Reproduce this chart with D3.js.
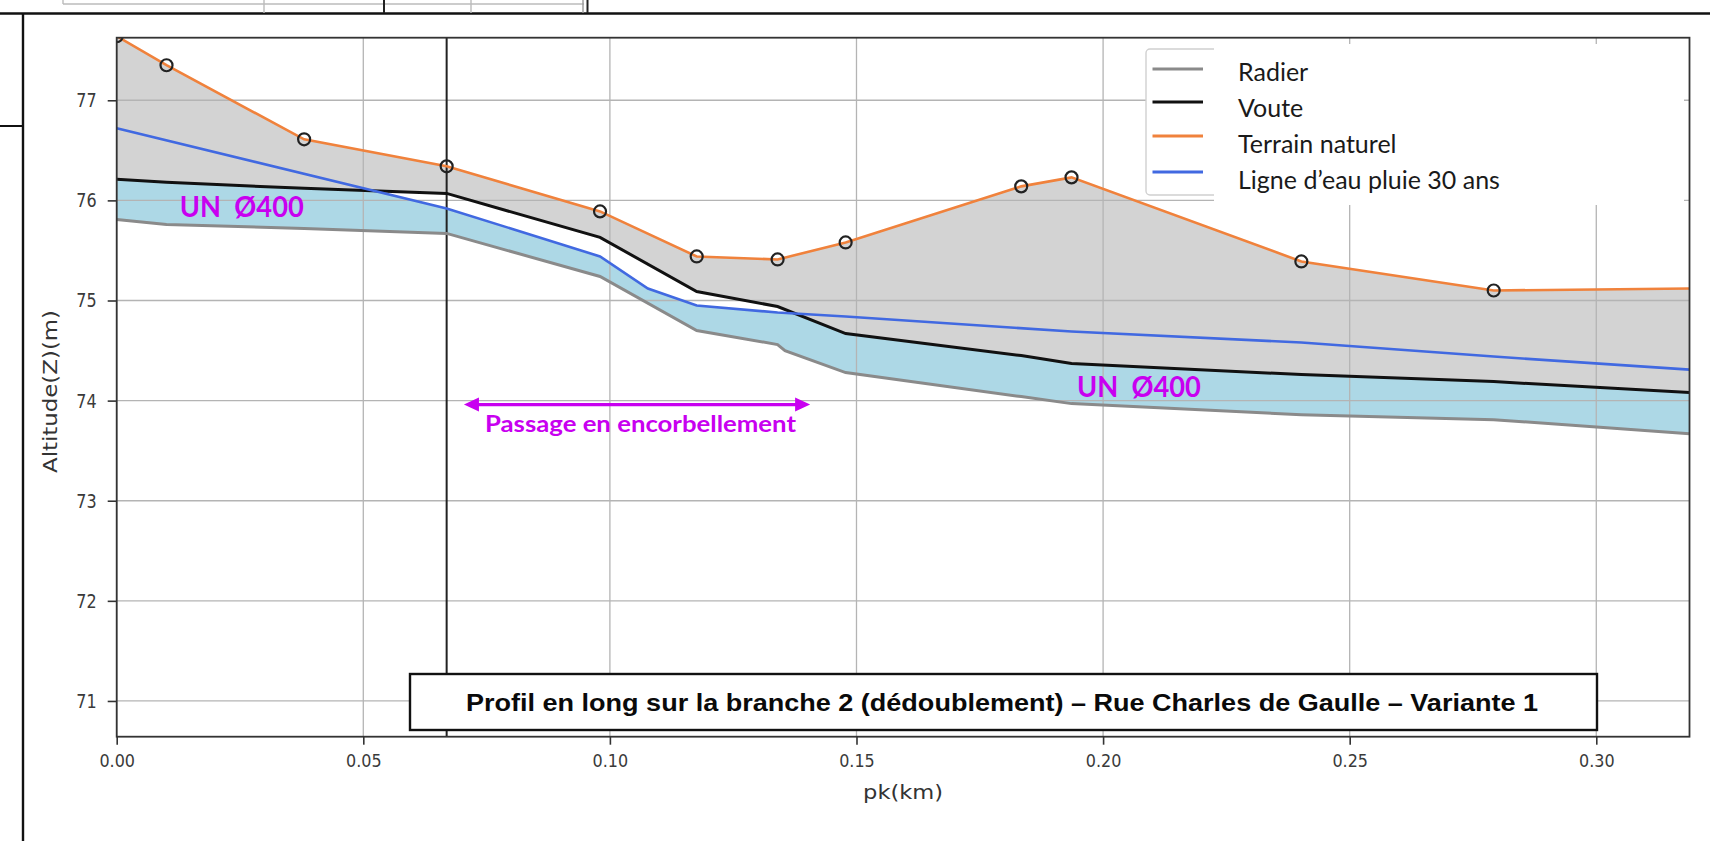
<!DOCTYPE html>
<html>
<head>
<meta charset="utf-8">
<script src="https://cdn.jsdelivr.net/npm/d3@7"></script>
<style>
  html, body { margin: 0; padding: 0; background: #ffffff; }
  svg { display: block; }
</style>
</head>
<body>
<svg id="chart" width="1710" height="841"></svg>
<script>
// ---- Long profile, branch 2 (pk in km, altitudes in m) ----
const pk      = [0, 0.0101, 0.038, 0.0669, 0.098, 0.1176, 0.134, 0.1478, 0.1834, 0.1936, 0.2402, 0.2792, 0.3189];
const terrain = [77.64, 77.35, 76.61, 76.34, 75.89, 75.44, 75.41, 75.58, 76.14, 76.23, 75.39, 75.10, 75.12];
const voute   = [76.21, 76.18, 76.12, 76.07, 75.63, 75.09, 74.94, 74.67, 74.45, 74.37, 74.26, 74.19, 74.08];
// invert level, with the small drop just after pk 0.134
const pkRadier = [0, 0.0101, 0.038, 0.0669, 0.098, 0.1176, 0.134, 0.1355, 0.1478, 0.1834, 0.1936, 0.2402, 0.2792, 0.3189];
const radier   = [75.81, 75.76, 75.72, 75.67, 75.24, 74.70, 74.56, 74.50, 74.28, 74.04, 73.97, 73.86, 73.81, 73.67];
// surveyed ground points (circles): every node but the last one
const terrainSurveyed = 12;

// 30-year rainfall water line
const pkEau = [0, 0.0669, 0.098, 0.1077, 0.1176, 0.134, 0.1478, 0.1936, 0.2402, 0.2792, 0.3189];
const eau   = [76.72, 75.92, 75.44, 75.12, 74.95, 74.88, 74.84, 74.69, 74.58, 74.44, 74.31];

const xTicks = [0, 0.05, 0.10, 0.15, 0.20, 0.25, 0.30];
const yTicks = [71, 72, 73, 74, 75, 76, 77];
const xDomain = [0, 0.3189];
const yDomain = [70.643, 77.625];

const legendNames  = ["Radier", "Voute", "Terrain naturel", "Ligne d\u2019eau pluie 30 ans"];
const legendColors = ["#8a8a8a", "#111111", "#f0823c", "#4169e1"];

// annotations (data coordinates)
const pkLimite = 0.0669;
const pkEncorbellement = [0.0704, 0.1406];
const zEncorbellement = 73.96;
const labelEncorbellement = "Passage en encorbellement";
const pkDiametre = [0.0128, 0.1947];
const zDiametre = [75.83, 74.04];
const labelDiametre = "UN  \u00D8400";
const titre = "Profil en long sur la branche 2 (d\u00E9doublement) \u2013 Rue Charles de Gaulle \u2013 Variante 1";

// ---- layout ----
const plot = { left: 116.7, right: 1689.5, top: 37.7, bottom: 736.7 };
const svg = d3.select("#chart");
const x = d3.scaleLinear().domain(xDomain).range([plot.left, plot.right]);
const y = d3.scaleLinear().domain(yDomain).range([plot.bottom, plot.top]);
const magenta = "#c800f0";

// ---- page frame around the figure ----
const frame = svg.append("g").attr("fill", "none");
frame.append("line").attr("x1", 0).attr("x2", 1710).attr("y1", 13.5).attr("y2", 13.5)
  .attr("stroke", "#111").attr("stroke-width", 2.4);
frame.append("line").attr("x1", 23).attr("x2", 23).attr("y1", 13).attr("y2", 841)
  .attr("stroke", "#111").attr("stroke-width", 2.4);
frame.append("line").attr("x1", 0).attr("x2", 23).attr("y1", 126).attr("y2", 126)
  .attr("stroke", "#111").attr("stroke-width", 2);
frame.append("line").attr("x1", 63).attr("x2", 584).attr("y1", 4).attr("y2", 4)
  .attr("stroke", "#bbb").attr("stroke-width", 1.4);
[[63, "#bbb", 4], [264, "#bbb", 13], [384, "#222", 13], [471, "#bbb", 13], [583, "#999", 13], [587.5, "#222", 13]]
  .forEach(([vx, c, h]) => frame.append("line").attr("x1", vx).attr("x2", vx).attr("y1", 0).attr("y2", h)
    .attr("stroke", c).attr("stroke-width", c === "#222" ? 2 : 1.4));

// ---- clip to the axes area ----
svg.append("defs").append("clipPath").attr("id", "plotClip")
  .append("rect").attr("x", plot.left).attr("y", plot.top)
  .attr("width", plot.right - plot.left).attr("height", plot.bottom - plot.top);
const inner = svg.append("g").attr("clip-path", "url(#plotClip)");

// ---- interpolation helpers for the water-filled part of the pipe ----
function interp(xs, ys, v) {
  if (v <= xs[0]) return ys[0];
  for (let i = 1; i < xs.length; i++) {
    if (v <= xs[i]) {
      const t = (v - xs[i - 1]) / (xs[i] - xs[i - 1]);
      return ys[i - 1] + t * (ys[i] - ys[i - 1]);
    }
  }
  return ys[ys.length - 1];
}
const grid = Array.from(new Set(pk.concat(pkEau, pkRadier))).sort((a, b) => a - b);
const withCrossings = [];
grid.forEach((g, i) => {
  if (i > 0) {
    const a = grid[i - 1];
    const da = interp(pkEau, eau, a) - interp(pk, voute, a);
    const db = interp(pkEau, eau, g) - interp(pk, voute, g);
    if (da * db < 0) withCrossings.push(a + (g - a) * da / (da - db));
  }
  withCrossings.push(g);
});
const wetSection = withCrossings.map(v => ({
  pk: v,
  low: interp(pkRadier, radier, v),
  high: Math.min(interp(pk, voute, v), interp(pkEau, eau, v))
}));

// ground above the crown: light grey
const profile = pk.map((p, i) => ({ pk: p, terrain: terrain[i], voute: voute[i] }));
inner.append("path").datum(profile)
  .attr("fill", "#d3d3d3")
  .attr("d", d3.area().x(d => x(d.pk)).y0(d => y(d.voute)).y1(d => y(d.terrain)));
// water inside the pipe: light blue
inner.append("path").datum(wetSection)
  .attr("fill", "#add8e6")
  .attr("d", d3.area().x(d => x(d.pk)).y0(d => y(d.low)).y1(d => y(d.high)));

// ---- grid ----
const gridG = inner.append("g").attr("stroke", "#b4b4b4").attr("stroke-width", 1.3);
xTicks.forEach(t => gridG.append("line").attr("x1", x(t)).attr("x2", x(t)).attr("y1", plot.top).attr("y2", plot.bottom));
yTicks.forEach(t => gridG.append("line").attr("x1", plot.left).attr("x2", plot.right).attr("y1", y(t)).attr("y2", y(t)));

// limit of the cantilevered section
inner.append("line").attr("x1", x(pkLimite)).attr("x2", x(pkLimite))
  .attr("y1", plot.top).attr("y2", plot.bottom)
  .attr("stroke", "#222").attr("stroke-width", 2);

// ---- profile lines ----
const lineP = key => d3.line().x(d => x(d.pk)).y(d => y(d[key]));
const invert = pkRadier.map((p, i) => ({ pk: p, z: radier[i] }));
inner.append("path").datum(invert).attr("fill", "none").attr("stroke", legendColors[0])
  .attr("stroke-width", 3).attr("d", lineP("z"));
inner.append("path").datum(profile).attr("fill", "none").attr("stroke", legendColors[1])
  .attr("stroke-width", 3).attr("d", lineP("voute"));
inner.append("path").datum(profile).attr("fill", "none").attr("stroke", legendColors[2])
  .attr("stroke-width", 2.6).attr("d", lineP("terrain"));
const waterLine = pkEau.map((p, i) => ({ pk: p, z: eau[i] }));
inner.append("path").datum(waterLine).attr("fill", "none").attr("stroke", legendColors[3])
  .attr("stroke-width", 2.6).attr("d", lineP("z"));

// surveyed ground points
inner.append("g").selectAll("circle").data(profile.slice(0, terrainSurveyed)).join("circle")
  .attr("cx", d => x(d.pk)).attr("cy", d => y(d.terrain)).attr("r", 6)
  .attr("fill", "none").attr("stroke", "#222").attr("stroke-width", 2.2);

// ---- spines and axes ----
svg.append("rect").attr("x", plot.left).attr("y", plot.top)
  .attr("width", plot.right - plot.left).attr("height", plot.bottom - plot.top)
  .attr("fill", "none").attr("stroke", "#333").attr("stroke-width", 1.8);

const xAxis = svg.append("g").attr("transform", `translate(0,${plot.bottom})`)
  .call(d3.axisBottom(x).tickValues(xTicks).tickFormat(d3.format(".2f")).tickSize(8).tickPadding(8));
const yAxis = svg.append("g").attr("transform", `translate(${plot.left},0)`)
  .call(d3.axisLeft(y).tickValues(yTicks).tickFormat(d3.format("d")).tickSize(9).tickPadding(11));
[xAxis, yAxis].forEach(g => {
  g.select(".domain").remove();
  g.selectAll(".tick line").attr("stroke", "#333").attr("stroke-width", 1.6);
  g.selectAll(".tick text").attr("font-family", "DejaVu Sans").attr("font-size", 16).attr("fill", "#3a3a3a");
});
xAxis.selectAll(".tick text").attr("transform", "scale(1,1.12)");
yAxis.selectAll(".tick text").attr("transform", "scale(1,1.25)");

svg.append("text").attr("x", (plot.left + plot.right) / 2).attr("y", 799)
  .attr("text-anchor", "middle").attr("font-family", "DejaVu Sans").attr("font-size", 20)
  .attr("fill", "#333").attr("textLength", 80).attr("lengthAdjust", "spacingAndGlyphs")
  .text("pk(km)");
svg.append("text").attr("transform", "translate(57,391.5) rotate(-90)")
  .attr("text-anchor", "middle").attr("font-family", "DejaVu Sans").attr("font-size", 19)
  .attr("fill", "#333").attr("textLength", 163).attr("lengthAdjust", "spacingAndGlyphs")
  .text("Altitude(Z)(m)");

// ---- annotations ----
pkDiametre.forEach((p, i) => {
  svg.append("text").attr("x", x(p)).attr("y", y(zDiametre[i]))
    .attr("font-family", "Lato").attr("font-weight", 700).attr("font-size", 28)
    .attr("fill", magenta).attr("textLength", 124).attr("lengthAdjust", "spacingAndGlyphs")
    .attr("xml:space", "preserve").style("white-space", "pre")
    .text(labelDiametre);
});

const ax0 = x(pkEncorbellement[0]), ax1 = x(pkEncorbellement[1]), ay = y(zEncorbellement);
const arrow = svg.append("g").attr("fill", magenta).attr("stroke", "none");
arrow.append("line").attr("x1", ax0 + 10).attr("x2", ax1 - 10).attr("y1", ay).attr("y2", ay)
  .attr("stroke", magenta).attr("stroke-width", 3.4);
arrow.append("path").attr("d", `M${ax0},${ay} L${ax0 + 15},${ay - 7} L${ax0 + 15},${ay + 7} Z`);
arrow.append("path").attr("d", `M${ax1},${ay} L${ax1 - 15},${ay - 7} L${ax1 - 15},${ay + 7} Z`);
svg.append("text").attr("x", (ax0 + ax1) / 2 + 3.5).attr("y", 431.5)
  .attr("text-anchor", "middle").attr("font-family", "Lato").attr("font-weight", 700)
  .attr("font-size", 22).attr("fill", magenta)
  .attr("textLength", 311).attr("lengthAdjust", "spacingAndGlyphs")
  .text(labelEncorbellement);

// ---- title box ----
svg.append("rect").attr("x", 410).attr("y", 674).attr("width", 1187).attr("height", 56)
  .attr("fill", "#ffffff").attr("stroke", "#111").attr("stroke-width", 2.4);
svg.append("text").attr("x", 1002).attr("y", 710.5).attr("text-anchor", "middle")
  .attr("font-family", "Liberation Sans, Arial, sans-serif").attr("font-weight", 700)
  .attr("font-size", 24).attr("fill", "#0a0a0a")
  .attr("textLength", 1072).attr("lengthAdjust", "spacingAndGlyphs")
  .text(titre);

// ---- legend ----
const legend = svg.append("g");
legend.append("rect").attr("x", 1146).attr("y", 49).attr("width", 520).attr("height", 146)
  .attr("rx", 4).attr("fill", "#ffffff").attr("stroke", "#d0d0d0").attr("stroke-width", 1.4);
legend.append("rect").attr("x", 1214).attr("y", 44).attr("width", 470).attr("height", 161)
  .attr("fill", "#ffffff");
const legendLineY = [69, 102, 136, 172];
const legendTextY = [81, 117, 153, 189];
legendNames.forEach((name, i) => {
  legend.append("line").attr("x1", 1152.5).attr("x2", 1203)
    .attr("y1", legendLineY[i]).attr("y2", legendLineY[i])
    .attr("stroke", legendColors[i]).attr("stroke-width", 3);
  legend.append("text").attr("x", 1238).attr("y", legendTextY[i])
    .attr("font-family", "Lato").attr("font-size", 25).attr("fill", "#1a1a1a")
    .text(name);
});
</script>
</body>
</html>
